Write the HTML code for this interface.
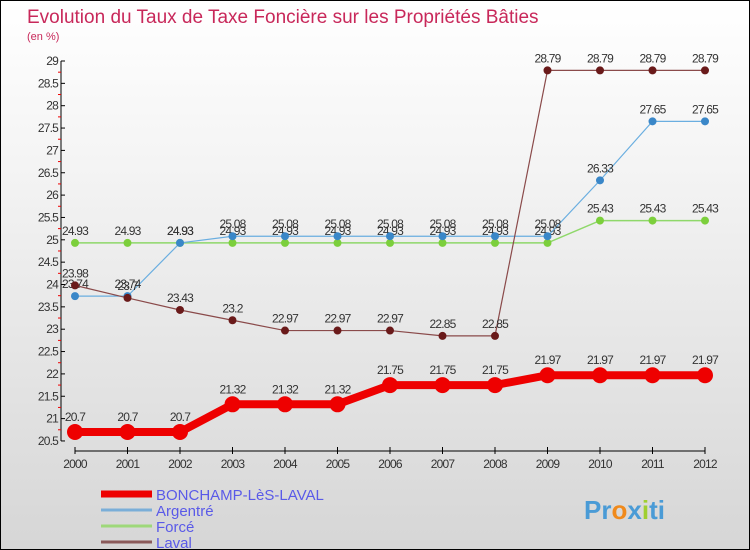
<!DOCTYPE html>
<html><head><meta charset="utf-8"><style>
body{margin:0}
#wrap{position:relative;width:748px;height:548px;border:1px solid #000;background:linear-gradient(#fff 0%,#f4f4f4 30%,#d6d6d6 100%);overflow:hidden;font-family:"Liberation Sans",sans-serif}
svg text{font-family:"Liberation Sans",sans-serif}
</style></head><body>
<div id="wrap">
<svg id="c" width="748" height="548">
<text x="26" y="22" font-size="19" fill="#c8285a">Evolution du Taux de Taxe Foncière sur les Propriétés Bâties</text>
<text x="26" y="39" font-size="11" fill="#c8285a">(en %)</text>
<text x="583" y="518" font-size="26" font-weight="bold" fill="#4a9bd6">Pr<tspan fill="#f08a1c">o</tspan>x<tspan fill="#9fcf30">i</tspan>ti</text>
</svg>
</div>
<script>
const years=[2000,2001,2002,2003,2004,2005,2006,2007,2008,2009,2010,2011,2012];
const yTicks=[20.5,21,21.5,22,22.5,23,23.5,24,24.5,25,25.5,26,26.5,27,27.5,28,28.5,29];
const bonchamp=[20.7,20.7,20.7,21.32,21.32,21.32,21.75,21.75,21.75,21.97,21.97,21.97,21.97];
const argentre=[23.74,23.74,24.93,25.08,25.08,25.08,25.08,25.08,25.08,25.08,26.33,27.65,27.65];
const force=[24.93,24.93,24.93,24.93,24.93,24.93,24.93,24.93,24.93,24.93,25.43,25.43,25.43];
const laval=[23.98,23.7,23.43,23.2,22.97,22.97,22.97,22.85,22.85,28.79,28.79,28.79,28.79];
const NS='http://www.w3.org/2000/svg';
const svg=document.getElementById('c');
const X=i=>74+i*52.5;
const Y=v=>60+(29-v)*44.7;
function mk(t,a,p){const e=document.createElementNS(NS,t);for(const k in a)e.setAttribute(k,a[k]);(p||svg).appendChild(e);return e;}
function fmt(v){return String(v);}
const ax=mk('g',{});


mk('line',{x1:60,y1:Y(29),x2:60,y2:Y(20.5),stroke:'#000'},ax);
yTicks.forEach((v,i)=>{
  mk('line',{x1:60,y1:Y(v),x2:64,y2:Y(v),stroke:'#000'},ax);
  if(i<yTicks.length-1)mk('line',{x1:57,y1:Y(v+0.25),x2:60,y2:Y(v+0.25),stroke:'#e00'},ax);
  const t=mk('text',{x:57,y:Y(v)+4,'font-size':12,'text-anchor':'end',fill:'#333','letter-spacing':'-0.8'},ax);
  
  
  t.textContent=v;
});
const xa=mk('g',{});


mk('line',{x1:X(0),y1:450,x2:X(12),y2:450,stroke:'#000'},xa);
years.forEach((y,i)=>{
  mk('line',{x1:X(i),y1:446,x2:X(i),y2:453,stroke:'#000'},xa);
  const t=mk('text',{x:X(i),y:467,'font-size':12,'text-anchor':'middle',fill:'#333','letter-spacing':'-0.8'},xa);
  
  
  t.textContent=y;
});
function series(data,color,w,r,name,lineCol){
  const g=mk('g',{});
  
  
  mk('polyline',{points:data.map((v,i)=>X(i)+','+Y(v)).join(' '),fill:'none',stroke:lineCol,'stroke-width':w},g);
  data.forEach((v,i)=>{
    const c=mk('circle',{cx:X(i),cy:Y(v),r:r,fill:color},g);
    
    
    const t=mk('text',{x:X(i),y:Y(v)-8-(r>5?3:0),'font-size':12,'text-anchor':'middle',fill:'#333','letter-spacing':'-0.8'},g);
    
    
    t.textContent=fmt(v);
  });
}
series(force,'#7ccf3c',1.5,4,'series-force','#8fd86a');
series(argentre,'#3a87c8',1.2,4,'series-argentre','#6aaee0');
series(laval,'#6a1a1a',1.2,4,'series-laval','#8a4a4a');
series(bonchamp,'#ee0000',8,8,'series-bonchamp','#ee0000');
const leg=[['BONCHAMP-LèS-LAVAL','#ee0000',7],['Argentré','#7aaed8',3],['Forcé','#9ed87a',3],['Laval','#8a5a5a',3]];
leg.forEach((l,i)=>{
  const g=mk('g',{});
  
  
  const y=493+i*16;
  mk('line',{x1:100,y1:y,x2:151,y2:y,stroke:l[1],'stroke-width':l[2]},g);
  const t=mk('text',{x:155,y:y+6,'font-size':15,fill:'#5a5ae8'},g);
  t.textContent=l[0];
});
</script>
</body></html>
